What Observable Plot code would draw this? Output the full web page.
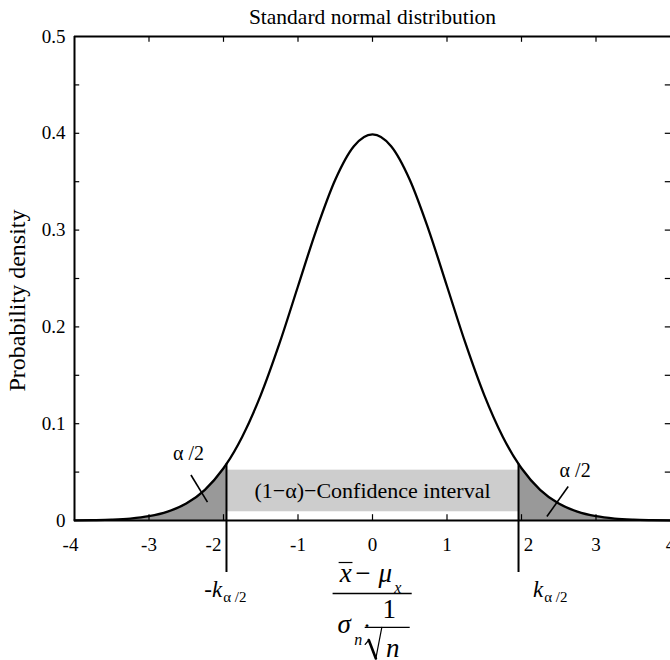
<!DOCTYPE html>
<html><head><meta charset="utf-8">
<script src="https://cdn.jsdelivr.net/npm/d3@7"></script>
<script src="https://cdn.jsdelivr.net/npm/@observablehq/plot@0.6"></script>
<style>
html,body{margin:0;padding:0;background:#fff;overflow:hidden}
svg, svg text, svg tspan { font-family: "Liberation Serif", "Times New Roman", serif !important; }
</style>
</head><body><div id="chart"></div>
<script>
// ---- data ----
const zValues = [-4,-3.75,-3.5,-3.25,-3,-2.75,-2.5,-2.25,-2,-1.96,-1.75,-1.5,-1.25,-1,-0.75,-0.5,-0.25,0,
                 0.25,0.5,0.75,1,1.25,1.5,1.75,1.96,2,2.25,2.5,2.75,3,3.25,3.5,3.75,4];
const densityValues = [0.0001,0.0004,0.0009,0.002,0.0044,0.0091,0.0175,0.0317,0.054,0.0584,0.0863,0.1295,0.1826,0.242,0.3011,0.3521,0.3867,0.3989,
                       0.3867,0.3521,0.3011,0.242,0.1826,0.1295,0.0863,0.0584,0.054,0.0317,0.0175,0.0091,0.0044,0.002,0.0009,0.0004,0.0001];
const criticalValues = [-1.96, 1.96];
const intervalBand = [0.009, 0.052];
const xTickValues = [-4,-3,-2,-1,0,1,2,3,4];
const xInnerTicks = [-3,-2,-1,0,1,2,3];
const yTickValues = [0,0.1,0.2,0.3,0.4,0.5];
const yMinorTicks = [0.05,0.1,0.15,0.2,0.25,0.3,0.35,0.4,0.45];
const titleText = "Standard normal distribution";
const yLabelText = "Probability density";
const intervalText = "(1\u2212\u03b1)\u2212Confidence interval";
const tailText = "\u03b1 /2";

// ---- build ----
const curve = zValues.map((z, i) => ({z, p: densityValues[i]}));
const leftTail = curve.filter(d => d.z <= criticalValues[0]);
const rightTail = curve.filter(d => d.z >= criticalValues[1]);
const kRows = curve.filter(d => criticalValues.includes(d.z));

const serif = "Liberation Serif";
const T = (text, opts) => Plot.text([text], {text: d => d, fill: "black", stroke: null, fontFamily: serif, ...opts});
const xLab = (vals, dx) => Plot.text(vals, {x: d => d, y: 0, text: d => String(d), dy: 17, dx, lineAnchor: "top", fontSize: 19, fill: "black", fontFamily: serif});

const chart = Plot.plot({
  width: 670, height: 660,
  marginLeft: 74, marginRight: 0, marginTop: 36, marginBottom: 140,
  style: {fontFamily: serif, fontSize: "19px", background: "white", color: "black"},
  x: {domain: [-4, 4], axis: null},
  y: {domain: [0, 0.5], ticks: yTickValues, tickSize: 0, tickPadding: 9, tickFormat: d => d === 0 ? "0" : d.toFixed(1), label: null},
  marks: [
    Plot.rect([intervalBand], {x1: criticalValues[0], x2: criticalValues[1], y1: d => d[0], y2: d => d[1], fill: "#cdcdcd"}),
    Plot.areaY(leftTail, {x: "z", y: "p", fill: "#999999", curve: "monotone-x"}),
    Plot.areaY(rightTail, {x: "z", y: "p", fill: "#999999", curve: "monotone-x"}),
    // frame
    Plot.ruleY([0, 0.5], {x1: -4, x2: 4, stroke: "black", strokeWidth: 2}),
    Plot.ruleX([-4], {y1: 0, y2: 0.5, stroke: "black", strokeWidth: 2}),
    // inward ticks
    Plot.ruleX(xInnerTicks, {y1: 0, y2: 0.006, stroke: "black", strokeWidth: 1.2}),
    Plot.ruleX(xInnerTicks, {y1: 0.5, y2: 0.494, stroke: "black", strokeWidth: 1.2}),
    Plot.ruleY(yMinorTicks, {x1: -4, x2: -3.93, stroke: "black", strokeWidth: 1.2}),
    Plot.ruleY(yMinorTicks, {x1: 4, x2: 3.93, stroke: "black", strokeWidth: 1.2}),
    // x tick labels (a few nudged away from the critical lines, as in the reference)
    xLab(xTickValues.filter(d => ![-4, -2, 2].includes(d)), 0),
    xLab([-4], -4),
    xLab([-2], -10),
    xLab([2], 7),
    // curve
    Plot.line(curve, {x: "z", y: "p", stroke: "black", strokeWidth: 2.3, curve: "monotone-x"}),
    // critical value lines
    Plot.ruleX(kRows, {x: "z", y1: -0.0537, y2: "p", stroke: "black", strokeWidth: 2}),
    // leaders for alpha/2
    Plot.link([[-2.437, 0.047, -2.215, 0.0189], [2.627, 0.0351, 2.341, 0.0041]],
      {x1: d => d[0], y1: d => d[1], x2: d => d[2], y2: d => d[3], stroke: "black", strokeWidth: 1.6}),
    T(tailText, {x: -2.47, y: 0.062, lineAnchor: "bottom", fontSize: 20}),
    T(tailText, {x: 2.72, y: 0.045, lineAnchor: "bottom", fontSize: 20}),
    T(intervalText, {x: 0, y: (intervalBand[0] + intervalBand[1]) / 2, lineAnchor: "middle", fontSize: 22}),
    // title and y label
    T(titleText, {frameAnchor: "top", textAnchor: "middle", lineAnchor: "bottom", dy: -13, fontSize: 21.5}),
    T(yLabelText, {frameAnchor: "left", textAnchor: "middle", rotate: -90, dx: -57, dy: 22, lineAnchor: "middle", fontSize: 24}),
    // k labels
    T("-k", {x: -2.017, y: -0.0795, textAnchor: "end", lineAnchor: "bottom", fontSize: 23, fontStyle: "italic"}),
    T(tailText, {x: -2.004, y: -0.0847, textAnchor: "start", lineAnchor: "bottom", fontSize: 15}),
    T("k", {x: 2.291, y: -0.0795, textAnchor: "end", lineAnchor: "bottom", fontSize: 23, fontStyle: "italic"}),
    T(tailText, {x: 2.305, y: -0.0847, textAnchor: "start", lineAnchor: "bottom", fontSize: 15}),
    // x-axis formula: (x̄ − μx) / (σn · 1/√n)
    T("x", {x: -0.36, y: -0.064, lineAnchor: "bottom", fontSize: 27, fontStyle: "italic"}),
    Plot.ruleY([-0.0434], {x1: -0.448, x2: -0.262, stroke: "black", strokeWidth: 1.2}),
    T("\u2212", {x: -0.13, y: -0.064, lineAnchor: "bottom", fontSize: 27}),
    T("\u03bc", {x: 0.17, y: -0.064, lineAnchor: "bottom", fontSize: 27, fontStyle: "italic"}),
    T("x", {x: 0.338, y: -0.0744, lineAnchor: "bottom", fontSize: 16, fontStyle: "italic"}),
    Plot.ruleY([-0.0754], {x1: -0.529, x2: 0.533, stroke: "black", strokeWidth: 1.3}),
    T("\u03c3", {x: -0.38, y: -0.1167, lineAnchor: "bottom", fontSize: 27, fontStyle: "italic"}),
    T("n", {x: -0.19, y: -0.129, lineAnchor: "bottom", fontSize: 16, fontStyle: "italic"}),
    T("\u00b7", {x: -0.075, y: -0.1167, lineAnchor: "bottom", fontSize: 24}),
    T("1", {x: 0.224, y: -0.101, lineAnchor: "bottom", fontSize: 27}),
    Plot.ruleY([-0.1105], {x1: -0.098, x2: 0.506, stroke: "black", strokeWidth: 1.3}),
    // radical sign
    Plot.line([[-0.098, -0.128], [-0.05, -0.1235]], {x: d => d[0], y: d => d[1], stroke: "black", strokeWidth: 1.3}),
    Plot.line([[-0.05, -0.1235], [0.045, -0.1425]], {x: d => d[0], y: d => d[1], stroke: "black", strokeWidth: 2.6}),
    Plot.line([[0.045, -0.1425], [0.125, -0.1105]], {x: d => d[0], y: d => d[1], stroke: "black", strokeWidth: 1.2}),
    T("n", {x: 0.271, y: -0.1415, lineAnchor: "bottom", fontSize: 27, fontStyle: "italic"})
  ]
});
document.getElementById("chart").appendChild(chart);
</script>
</body></html>
